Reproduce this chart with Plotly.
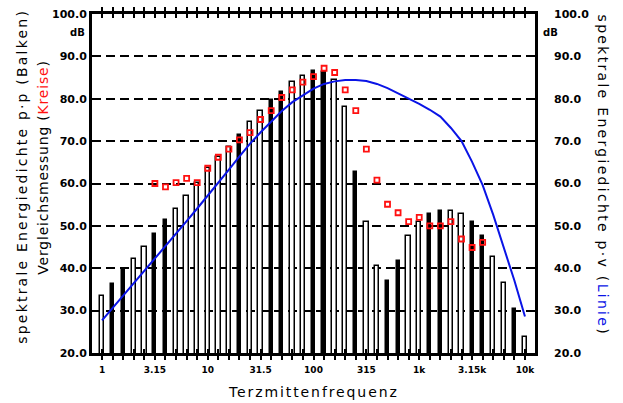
import plotly.graph_objects as go

# third-octave band centre labels (1 Hz .. 10 kHz), 41 bands
band_labels = ["1", "1.25", "1.6", "2", "2.5", "3.15", "4", "5", "6.3", "8",
               "10", "12.5", "16", "20", "25", "31.5", "40", "50", "63", "80",
               "100", "125", "160", "200", "250", "315", "400", "500", "630", "800",
               "1k", "1.25k", "1.6k", "2k", "2.5k", "3.15k", "4k", "5k", "6.3k", "8k", "10k"]
tick_bands = [0, 5, 10, 15, 20, 25, 30, 35, 40]
tick_text = ["1", "3.15", "10", "31.5", "100", "315", "1k", "3.15k", "10k"]
y_ticks = [20, 30, 40, 50, 60, 70, 80, 90, 100]

# spectral energy density p.p (bars), dB
bar_db = [33.5, 36.2, 39.6, 42.3, 45.1, 48.0, 51.3, 54.1, 57.0, 60.2,
          63.7, 66.2, 68.5, 71.4, 74.4, 77.2, 79.7, 81.5, 83.9, 85.4,
          86.6, 86.4, 84.4, 78.1, 62.6, 50.8, 40.5, 37.1, 41.8, 47.5,
          50.8, 52.7, 53.6, 53.6, 52.7, 50.8, 47.5, 42.7, 36.6, 30.5, 23.8]
# rendering look of each bar in the original (True = appears solid black)
bar_solid = [False, True, True, False, False, True, True, False, False, False,
             False, False, False, True, False, False, True, True, False, False,
             True, True, False, False, True, False, False, True, True, False,
             False, True, True, False, False, True, True, False, False, True, False]

# comparison measurement (circles), bands 5..36
circle_bands = list(range(5, 37))
circle_db = [60.0, 59.2, 60.2, 61.2, 60.2, 63.6, 66.2, 68.1, 70.3, 72.0,
             75.1, 77.2, 80.3, 82.1, 83.9, 85.2, 87.2, 86.2, 82.1, 77.2,
             68.1, 60.8, 55.1, 53.1, 51.0, 52.0, 50.0, 50.0, 51.0, 46.9,
             44.9, 46.1]

# spectral energy density p.v (line), dB per band
line_db = [27.7, 30.6, 33.5, 36.4, 39.3, 42.2, 45.1, 48.1, 51.1, 54.1,
           57.1, 60.2, 63.3, 66.4, 69.4, 72.1, 74.7, 77.1, 79.2, 80.9,
           82.4, 83.5, 84.1, 84.4, 84.4, 84.2, 83.5, 82.5, 81.3, 80.1,
           78.8, 77.4, 75.8, 73.1, 70.0, 65.1, 59.6, 52.6, 45.0, 37.1, 28.6]

bands = list(range(len(band_labels)))
fills = ["black" if s else "white" for s in bar_solid]
bar_widths = [0.3 if s else 0.42 for s in bar_solid]
all_ticktext = [tick_text[tick_bands.index(b)] if b in tick_bands else "" for b in bands]

fig = go.Figure()
fig.add_trace(go.Bar(
    x=bands, y=bar_db, width=bar_widths,
    marker=dict(color=fills, line=dict(color="black", width=1.5)),
    showlegend=False))
fig.add_trace(go.Scatter(
    x=bands, y=line_db, mode="lines",
    line=dict(color="#0a14e6", width=2), showlegend=False))
fig.add_trace(go.Scatter(
    x=circle_bands, y=circle_db, mode="markers",
    marker=dict(symbol="square-open", size=5, color="#ff1010",
                line=dict(color="#ff1010", width=1.8)),
    showlegend=False))
# invisible trace for right axis
fig.add_trace(go.Scatter(x=[0], y=[20], yaxis="y2", mode="markers",
                         marker=dict(opacity=0), showlegend=False, hoverinfo="skip"))

tickfont = dict(family="DejaVu Sans", size=11, color="black", weight="bold")
fig.update_layout(
    width=623, height=403,
    margin=dict(l=92, r=88, t=14, b=50, autoexpand=False),
    paper_bgcolor="white", plot_bgcolor="white",
    bargap=0,
    xaxis=dict(range=[-0.95, 40.95], tickmode="array", tickvals=bands,
               ticktext=all_ticktext,
               tickfont=dict(family="DejaVu Sans", size=9, color="black", weight="bold"),
               showline=True, linecolor="black", linewidth=3, mirror="allticks",
               ticks="inside", ticklen=4, tickwidth=2, tickcolor="black",
               showgrid=False, zeroline=False, ticklabelstandoff=6, automargin=False),
    yaxis=dict(range=[20, 100], tickmode="array", tickvals=y_ticks,
               tickformat=".1f", tickfont=tickfont,
               showline=True, linecolor="black", linewidth=3, mirror=True,
               showgrid=True, gridcolor="black", gridwidth=2, griddash="9px,5px",
               ticks="", zeroline=False, automargin=False),
    yaxis2=dict(range=[20, 100], overlaying="y", side="right", tickmode="array",
                tickvals=y_ticks, tickformat=".1f", tickfont=tickfont, showgrid=False,
                showline=False, ticks="", zeroline=False, ticklabelstandoff=18,
                automargin=False),
)

title_font = dict(family="DejaVu Sans", size=14, color="black")
common = dict(xref="paper", yref="paper", showarrow=False,
              xanchor="center", yanchor="middle")
fig.add_annotation(x=-0.158, y=0.520,
                   text="<span style='letter-spacing:2.2px'>spektrale Energiedichte p·p (Balken)</span>",
                   textangle=-90, font=title_font, **common)
fig.add_annotation(x=-0.111, y=0.546,
                   text="<span style='letter-spacing:0.8px'>Vergleichsmessung (</span>"
                        "<span style='letter-spacing:0.8px;color:#ff1010'>Kreise</span>"
                        "<span style='letter-spacing:0.8px'>)</span>",
                   textangle=-90, font=title_font, **common)
fig.add_annotation(x=1.153, y=0.524,
                   text="<span style='letter-spacing:2.3px'>spektrale Energiedichte p·v (</span>"
                        "<span style='letter-spacing:2.3px;color:#0a14e6'>Linie</span>"
                        "<span style='letter-spacing:2.3px'>)</span>",
                   textangle=90, font=title_font, **common)
fig.add_annotation(x=0.499, y=-0.115,
                   text="<span style='letter-spacing:1.9px'>Terzmittenfrequenz</span>",
                   font=title_font, **common)
fig.add_annotation(x=-0.032, y=0.944, text="dB",
                   font=dict(family="DejaVu Sans", size=10, color="black", weight="bold"), **common)
fig.add_annotation(x=1.036, y=0.944, text="dB",
                   font=dict(family="DejaVu Sans", size=10, color="black", weight="bold"), **common)

fig.write_html("out.html", config={"displayModeBar": False},
               post_script="document.body.style.margin='0';")
